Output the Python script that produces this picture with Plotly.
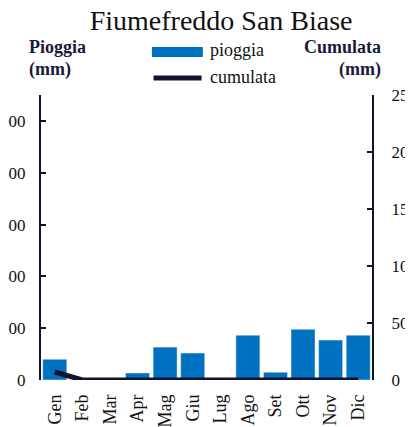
import plotly.graph_objects as go

months = ["Gen", "Feb", "Mar", "Apr", "Mag", "Giu", "Lug", "Ago", "Set", "Ott", "Nov", "Dic"]
pioggia = [80, 0, 0, 27, 127, 104, 0, 173, 30, 196, 154, 173]
cumulata = [70, 0, 0, 0, 0, 0, 0, 0, 0, 0, 0, 0]
left_ticks = [0, 200, 400, 600, 800, 1000]
right_ticks = [0, 500, 1000, 1500, 2000, 2500]

BLUE = "#0070C0"
NAVY = "#13132e"
TXT = "#111111"
FONT = "Liberation Serif"

fig = go.Figure()
fig.add_trace(go.Bar(x=months, y=pioggia, marker_color=BLUE, name="pioggia", yaxis="y"))
fig.add_trace(go.Scatter(x=months, y=cumulata, mode="lines",
                         line=dict(color=NAVY, width=5),
                         name="cumulata", yaxis="y2"))

fig.update_layout(
    width=413, height=427,
    margin=dict(l=33, r=49, t=87, b=55),
    paper_bgcolor="white", plot_bgcolor="white",
    showlegend=False,
    bargap=0.13,
    font=dict(family=FONT, size=17, color=TXT),
    title=dict(text="Fiumefreddo San Biase", x=0.516, xanchor="center", y=0.972,
               yanchor="middle", font=dict(family=FONT, size=28, color=TXT)),
    xaxis=dict(showline=False, ticks="", tickangle=-90, showgrid=False, automargin=False,
               tickfont=dict(size=18, color=TXT), ticklabelstandoff=10),
    yaxis=dict(range=[0, 1100], tickvals=left_ticks, showgrid=False, zeroline=False,
               showline=True, linecolor=NAVY, linewidth=2, ticks="inside", ticklen=5,
               tickcolor=NAVY, tickwidth=2, automargin=False, ticklabelstandoff=10,
               tickfont=dict(size=17, color=TXT)),
    yaxis2=dict(range=[0, 2500], tickvals=right_ticks, overlaying="y", side="right",
                showgrid=False, zeroline=False, showline=True, linecolor=NAVY, linewidth=2,
                ticks="inside", ticklen=5, tickcolor=NAVY, tickwidth=2, automargin=False,
                ticklabelstandoff=14, tickfont=dict(size=17, color=TXT)),
)

TITLE_COL = "#1a1a3a"
# axis titles
for txt, y in [("<b>Pioggia</b>", 1.168), ("<b>(mm)</b>", 1.088)]:
    fig.add_annotation(text=txt, xref="paper", yref="paper", x=-0.042, y=y,
                       xanchor="left", yanchor="middle", showarrow=False,
                       font=dict(family=FONT, size=18, color=TITLE_COL))
for txt, y in [("<b>Cumulata</b>", 1.168), ("<b>(mm)</b>", 1.088)]:
    fig.add_annotation(text=txt, xref="paper", yref="paper", x=1.033, y=y,
                       xanchor="right", yanchor="middle", showarrow=False,
                       font=dict(family=FONT, size=18, color=TITLE_COL))

# custom legend
fig.add_shape(type="rect", xref="paper", yref="paper", x0=0.335, x1=0.489, y0=1.133, y1=1.168,
              fillcolor=BLUE, line_width=0)
fig.add_shape(type="line", xref="paper", yref="paper", x0=0.34, x1=0.485, y0=1.06, y1=1.06,
              line=dict(color=NAVY, width=5))
fig.add_annotation(text="pioggia", xref="paper", yref="paper", x=0.506, y=1.158,
                   xanchor="left", yanchor="middle", showarrow=False,
                   font=dict(family=FONT, size=18, color=TXT))
fig.add_annotation(text="cumulata", xref="paper", yref="paper", x=0.506, y=1.063,
                   xanchor="left", yanchor="middle", showarrow=False,
                   font=dict(family=FONT, size=18, color=TXT))

fig.write_html("out.html")
